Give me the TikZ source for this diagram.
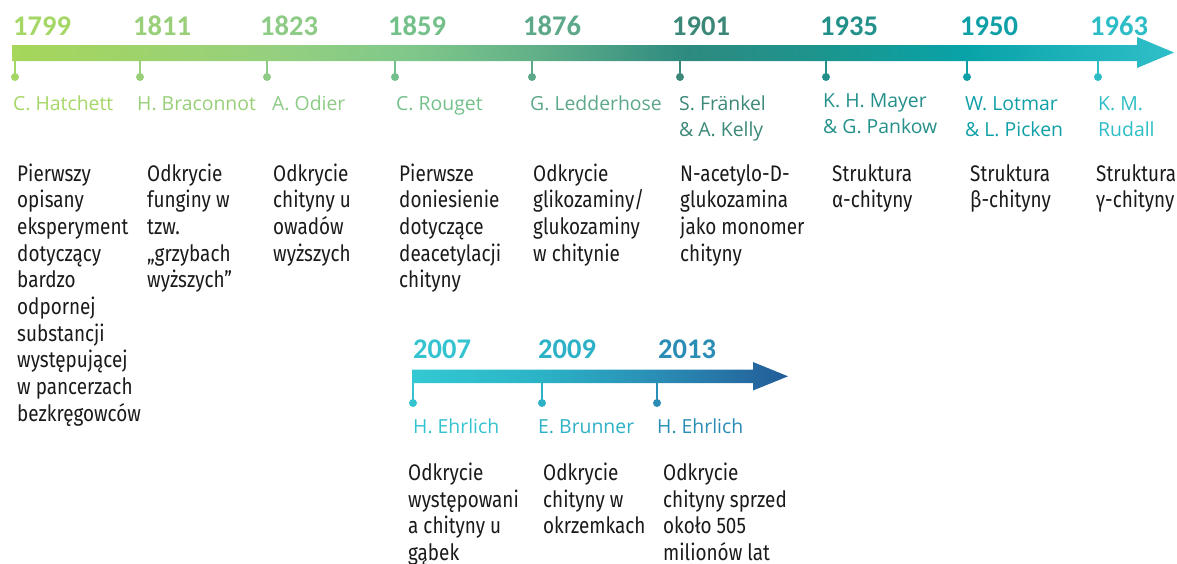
\documentclass[tikz,border=0pt]{standalone}
\usepackage{fontspec}
\newfontfamily\yearfont{Carlito}
\newfontfamily\namefont{Open Sans}
\newfontfamily\descfont[FakeStretch=0.84]{Fira Sans}
\definecolor{g1}{HTML}{A6D65A}
\definecolor{g2}{HTML}{96D07E}
\definecolor{g3}{HTML}{80C88A}
\definecolor{g4}{HTML}{62B088}
\definecolor{g5}{HTML}{2E8A80}
\definecolor{g6}{HTML}{1C958E}
\definecolor{g7}{HTML}{08A3A8}
\definecolor{g8}{HTML}{30BFC9}
\definecolor{b1}{HTML}{33C9D3}
\definecolor{b2}{HTML}{2BB3C6}
\definecolor{b3}{HTML}{2A8CB4}
\definecolor{b4}{HTML}{225C98}
\definecolor{c1799}{HTML}{A5D766}
\definecolor{c1811}{HTML}{98CF78}
\definecolor{c1823}{HTML}{8DCB86}
\definecolor{c1859}{HTML}{74C08A}
\definecolor{c1876}{HTML}{5CA888}
\definecolor{c1901}{HTML}{3B8878}
\definecolor{c1935}{HTML}{24908A}
\definecolor{c1950}{HTML}{0FA0A7}
\definecolor{c1963}{HTML}{2DBDC6}
\definecolor{c2007}{HTML}{34C3CF}
\definecolor{c2009}{HTML}{2DB1C6}
\definecolor{c2013}{HTML}{2A8DB6}
\definecolor{desc}{HTML}{1A1A1A}
\pgfdeclarehorizontalshading{topgrad}{100bp}{color(0bp)=(g1); color(25bp)=(g1); color(36bp)=(g2); color(42bp)=(g3); color(47.5bp)=(g4); color(54bp)=(g5); color(60bp)=(g6); color(66bp)=(g7); color(75bp)=(g8); color(100bp)=(g8)}
\pgfdeclarehorizontalshading{botgrad}{100bp}{color(0bp)=(b1); color(25bp)=(b1); color(42bp)=(b2); color(58bp)=(b3); color(75bp)=(b4); color(100bp)=(b4)}
\tikzset{
  year/.style={anchor=base west, inner sep=0pt, font=\yearfont\bfseries\fontsize{28.5}{30}\selectfont},
  who/.style={anchor=base west, inner sep=0pt, align=left, font=\namefont\fontsize{19.4}{26.5}\selectfont},
  what/.style={anchor=base west, inner sep=0pt, align=left, text=desc, font=\descfont\fontsize{22.5}{26.7}\selectfont},
  dot/.style={circle, inner sep=0pt, minimum size=8pt},
  tick/.style={line width=1.6pt},
}
\begin{document}
\begin{tikzpicture}[x=1pt,y=-1pt]
\useasboundingbox (0,0) rectangle (1177,563);
% top arrow
\path[shading=topgrad] (12,45) -- (1137,45) -- (1137,37) -- (1174,52.5) -- (1137,68) -- (1137,61) -- (12,61) -- cycle;
% bottom arrow
\path[shading=botgrad] (412,369.5) -- (753,369.5) -- (753,362) -- (788,376.3) -- (753,390.5) -- (753,383) -- (412,383) -- cycle;

% (multi-line nodes are placed by the baseline of their last line)
% 1799
\node[year, text=c1799] (y1799) at (13,35.5) {1799};
\coordinate (t1799) at (15,61);
\node[dot, fill=c1799] (d1799) at (15,77) {};
\draw[tick, c1799] (t1799) -- (d1799.center);
\node[who, text=c1799] (n1799) at (13,110) {C. Hatchett};
\node[what] (w1799) at (17,421.3) {Pierwszy\\opisany\\eksperyment\\dotyczący\\bardzo\\odpornej\\substancji\\występującej\\w pancerzach\\bezkręgowców};
% 1811
\node[year, text=c1811] (y1811) at (133,35.5) {1811};
\coordinate (t1811) at (140,61);
\node[dot, fill=c1811] (d1811) at (140,77) {};
\draw[tick, c1811] (t1811) -- (d1811.center);
\node[who, text=c1811] (n1811) at (137,110) {H. Braconnot};
\node[what] (w1811) at (147,287.8) {Odkrycie\\funginy w\\tzw.\\„grzybach\\wyższych”};
% 1823
\node[year, text=c1823] (y1823) at (260,35.5) {1823};
\coordinate (t1823) at (267,61);
\node[dot, fill=c1823] (d1823) at (267,77) {};
\draw[tick, c1823] (t1823) -- (d1823.center);
\node[who, text=c1823] (n1823) at (272,110) {A. Odier};
\node[what] (w1823) at (273,261.1) {Odkrycie\\chityny u\\owadów\\wyższych};
% 1859
\node[year, text=c1859] (y1859) at (388,35.5) {1859};
\coordinate (t1859) at (395,61);
\node[dot, fill=c1859] (d1859) at (395,77) {};
\draw[tick, c1859] (t1859) -- (d1859.center);
\node[who, text=c1859] (n1859) at (396,110) {C. Rouget};
\node[what] (w1859) at (399,287.8) {Pierwsze\\doniesienie\\dotyczące\\deacetylacji\\chityny};
% 1876
\node[year, text=c1876] (y1876) at (523,35.5) {1876};
\coordinate (t1876) at (532,61);
\node[dot, fill=c1876] (d1876) at (532,77) {};
\draw[tick, c1876] (t1876) -- (d1876.center);
\node[who, text=c1876] (n1876) at (530,110) {G. Ledderhose};
\node[what] (w1876) at (533,261.1) {Odkrycie\\glikozaminy/\\glukozaminy\\w chitynie};
% 1901
\node[year, text=c1901] (y1901) at (672,35.5) {1901};
\coordinate (t1901) at (680,61);
\node[dot, fill=c1901] (d1901) at (680,77) {};
\draw[tick, c1901] (t1901) -- (d1901.center);
\node[who, text=c1901] (n1901) at (679,136.5) {S. Fränkel\\\& A. Kelly};
\node[what] (w1901) at (680,261.1) {N-acetylo-D-\\glukozamina\\jako monomer\\chityny};
% 1935
\node[year, text=c1935] (y1935) at (820,35.5) {1935};
\coordinate (t1935) at (826,61);
\node[dot, fill=c1935] (d1935) at (826,77) {};
\draw[tick, c1935] (t1935) -- (d1935.center);
\node[who, text=c1935] (n1935) at (823,133.5) {K. H. Mayer\\\& G. Pankow};
\node[what] (w1935) at (832,207.7) {Struktura\\α-chityny};
% 1950
\node[year, text=c1950] (y1950) at (960,35.5) {1950};
\coordinate (t1950) at (967,61);
\node[dot, fill=c1950] (d1950) at (967,77) {};
\draw[tick, c1950] (t1950) -- (d1950.center);
\node[who, text=c1950] (n1950) at (965,136.5) {W. Lotmar\\\& L. Picken};
\node[what] (w1950) at (970,207.7) {Struktura\\β-chityny};
% 1963
\node[year, text=c1963] (y1963) at (1090,35.5) {1963};
\coordinate (t1963) at (1098,61);
\node[dot, fill=c1963] (d1963) at (1098,77) {};
\draw[tick, c1963] (t1963) -- (d1963.center);
\node[who, text=c1963] (n1963) at (1098,136.5) {K. M.\\Rudall};
\node[what] (w1963) at (1096,207.7) {Struktura\\γ-chityny};

% 2007
\node[year, text=c2007] (y2007) at (413,358.3) {2007};
\coordinate (t2007) at (413,383);
\node[dot, fill=c2007] (d2007) at (413,403) {};
\draw[tick, c2007] (t2007) -- (d2007.center);
\node[who, text=c2007] (n2007) at (413,433) {H. Ehrlich};
\node[what] (w2007) at (408,560.6) {Odkrycie\\występowani\\a chityny u\\gąbek};
% 2009
\node[year, text=c2009] (y2009) at (538,358.3) {2009};
\coordinate (t2009) at (542,383);
\node[dot, fill=c2009] (d2009) at (542,403) {};
\draw[tick, c2009] (t2009) -- (d2009.center);
\node[who, text=c2009] (n2009) at (538,433) {E. Brunner};
\node[what] (w2009) at (543,533.9) {Odkrycie\\chityny w\\okrzemkach};
% 2013
\node[year, text=c2013] (y2013) at (658,358.3) {2013};
\coordinate (t2013) at (657,383);
\node[dot, fill=c2013] (d2013) at (657,403) {};
\draw[tick, c2013] (t2013) -- (d2013.center);
\node[who, text=c2013] (n2013) at (657,433) {H. Ehrlich};
\node[what] (w2013) at (663,560.6) {Odkrycie\\chityny sprzed\\około 505\\milionów lat};
\end{tikzpicture}
\end{document}
